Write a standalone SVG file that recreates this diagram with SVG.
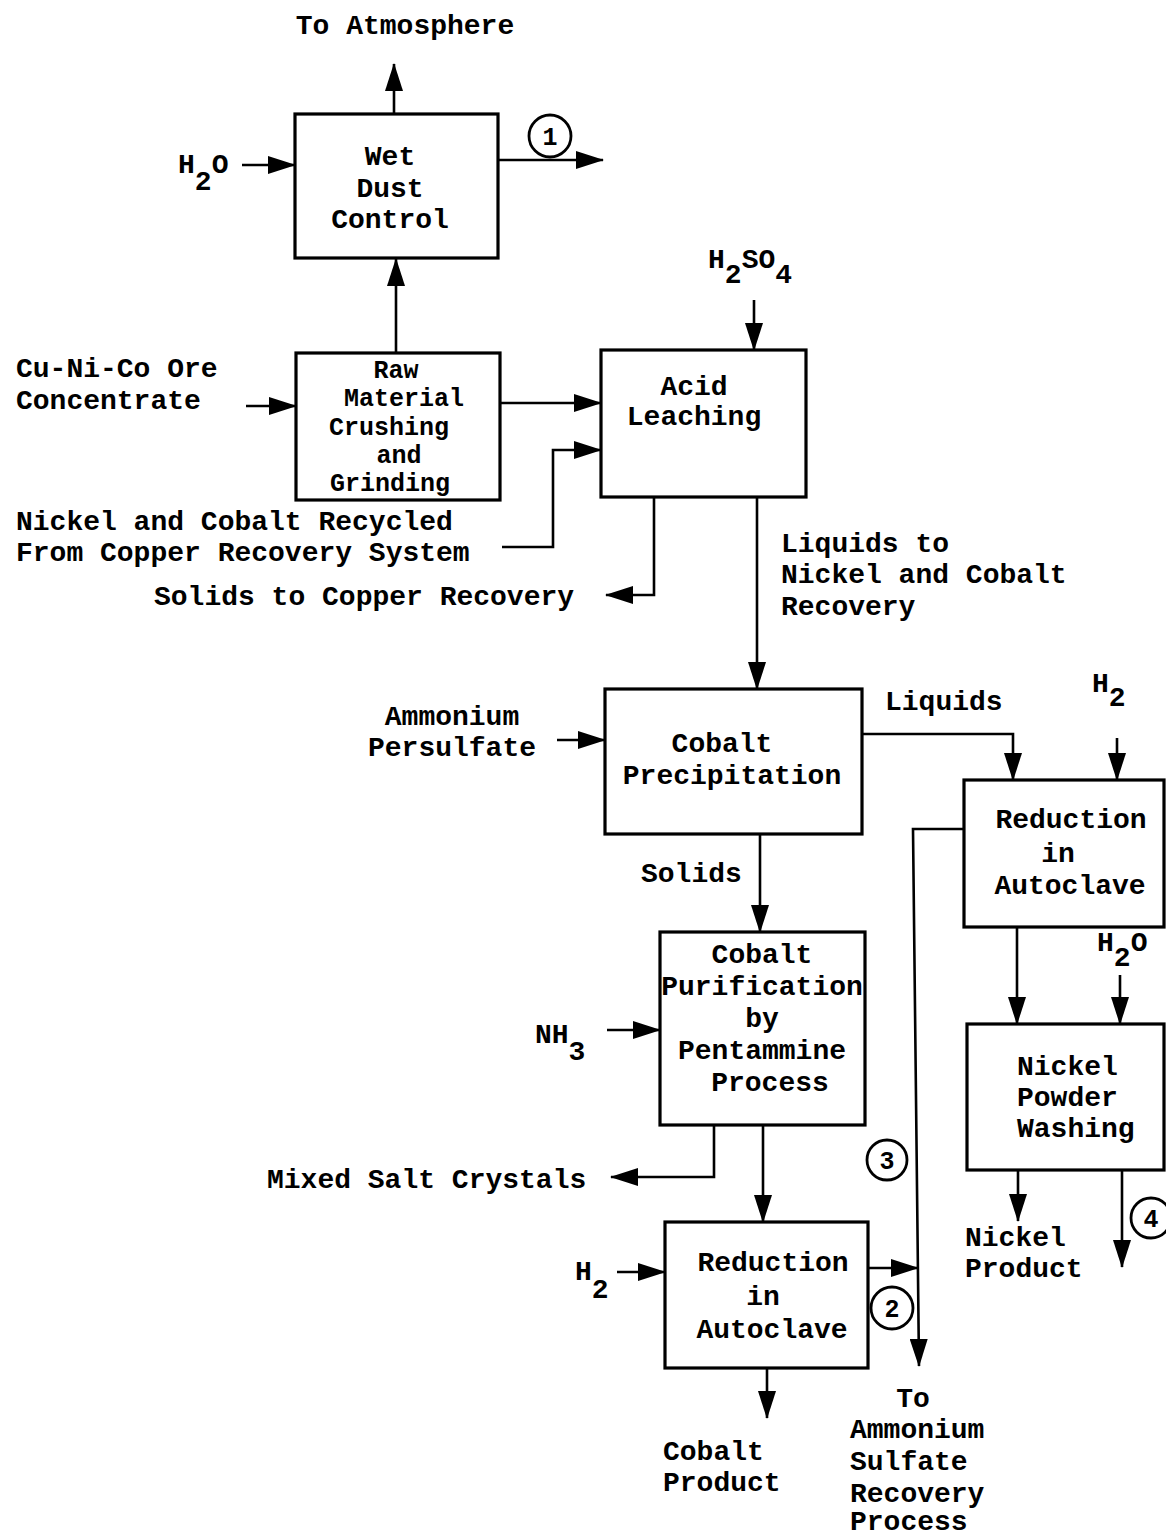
<svg xmlns="http://www.w3.org/2000/svg" width="1166" height="1538" viewBox="0 0 1166 1538">
<defs>
<marker id="ah" markerUnits="userSpaceOnUse" markerWidth="28" markerHeight="18" refX="27" refY="9" orient="auto">
<path d="M0,0 L28,9 L0,18 z" fill="#000"/>
</marker>
<style>
.box{fill:#fff;stroke:#000;stroke-width:3.2}
.c{fill:none;stroke:#000;stroke-width:2.6;marker-end:url(#ah)}
text{font-family:"Liberation Mono","Courier New",monospace;font-size:28px;font-weight:bold;fill:#000}
.m{text-anchor:middle}
.tight{font-size:25px}
.num{font-size:25px;text-anchor:middle}
.ring{fill:none;stroke:#000;stroke-width:2.8}
</style>
</defs>
<rect width="1166" height="1538" fill="#fff"/>

<g id="connectors">
<line class="c" x1="394" y1="113" x2="394" y2="64"/>
<line class="c" x1="242" y1="165" x2="295" y2="165"/>
<line class="c" x1="498" y1="160" x2="603" y2="160"/>
<line class="c" x1="396" y1="353" x2="396" y2="259"/>
<line class="c" x1="246" y1="406" x2="296" y2="406"/>
<line class="c" x1="500" y1="403" x2="601" y2="403"/>
<path class="c" d="M502,547 H553 V450 H601"/>
<line class="c" x1="754" y1="300" x2="754" y2="350"/>
<path class="c" d="M654,497 V595 H606"/>
<line class="c" x1="757" y1="497" x2="757" y2="689"/>
<line class="c" x1="557" y1="740" x2="605" y2="740"/>
<path class="c" d="M862,734 H1013 V780"/>
<line class="c" x1="1117" y1="738" x2="1117" y2="780"/>
<line class="c" x1="760" y1="834" x2="760" y2="932"/>
<path class="c" d="M964,829 H913 L919,1366"/>
<line class="c" x1="607" y1="1030" x2="660" y2="1030"/>
<path class="c" d="M714,1126 V1177 H611"/>
<line class="c" x1="763" y1="1126" x2="763" y2="1222"/>
<line class="c" x1="617" y1="1272" x2="665" y2="1272"/>
<line class="c" x1="868" y1="1268" x2="918" y2="1268"/>
<line class="c" x1="767" y1="1369" x2="767" y2="1418"/>
<line class="c" x1="1017" y1="928" x2="1017" y2="1024"/>
<line class="c" x1="1120" y1="975" x2="1120" y2="1024"/>
<line class="c" x1="1018" y1="1170" x2="1018" y2="1221"/>
<line class="c" x1="1122" y1="1170" x2="1122" y2="1267"/>
<circle class="ring" cx="550" cy="136" r="21"/>
<text class="num" x="550" y="145">1</text>
<circle class="ring" cx="892" cy="1308" r="21"/>
<text class="num" x="892" y="1317">2</text>
<circle class="ring" cx="887" cy="1160" r="20"/>
<text class="num" x="887" y="1169">3</text>
<circle class="ring" cx="1151" cy="1218" r="20"/>
<text class="num" x="1151" y="1227">4</text>
</g>

<g id="labels">
<text class="m" x="405" y="34">To Atmosphere</text>
<text x="178" y="173">H<tspan dy="17">2</tspan><tspan dy="-17">O</tspan></text>
<text x="708" y="268">H<tspan dy="15">2</tspan><tspan dy="-15">SO</tspan><tspan dy="15">4</tspan></text>
<text x="16" y="377">Cu-Ni-Co Ore</text>
<text x="16" y="409">Concentrate</text>
<text x="16" y="530">Nickel and Cobalt Recycled</text>
<text x="16" y="561">From Copper Recovery System</text>
<text x="154" y="605">Solids to Copper Recovery</text>
<text x="781" y="552">Liquids to</text>
<text x="781" y="583">Nickel and Cobalt</text>
<text x="781" y="615">Recovery</text>
<text class="m" x="452" y="725">Ammonium</text>
<text class="m" x="452" y="756">Persulfate</text>
<text x="885" y="710">Liquids</text>
<text x="1092" y="692">H<tspan dy="14">2</tspan></text>
<text x="641" y="882">Solids</text>
<text x="1097" y="951">H<tspan dy="15">2</tspan><tspan dy="-15">O</tspan></text>
<text x="535" y="1043">NH<tspan dy="17">3</tspan></text>
<text x="267" y="1188">Mixed Salt Crystals</text>
<text x="575" y="1280">H<tspan dy="18">2</tspan></text>
<text x="965" y="1246">Nickel</text>
<text x="965" y="1277">Product</text>
<text x="663" y="1460">Cobalt</text>
<text x="663" y="1491">Product</text>
<text class="m" x="913" y="1407">To</text>
<text x="850" y="1438">Ammonium</text>
<text x="850" y="1470">Sulfate</text>
<text x="850" y="1502">Recovery</text>
<text x="850" y="1530">Process</text>
</g>

<g id="wet-dust-control">
<rect class="box" x="295" y="114" width="203" height="144"/>
<text class="m" x="390" y="165">Wet</text>
<text class="m" x="390" y="197">Dust</text>
<text class="m" x="390" y="228">Control</text>
</g>
<g id="raw-material">
<rect class="box" x="296" y="353" width="204" height="147"/>
<text class="m tight" x="396" y="378">Raw</text>
<text class="m tight" x="404" y="406">Material</text>
<text class="m tight" x="389" y="435">Crushing</text>
<text class="m tight" x="399" y="463">and</text>
<text class="m tight" x="390" y="491">Grinding</text>
</g>
<g id="acid-leaching">
<rect class="box" x="601" y="350" width="205" height="147"/>
<text class="m" x="694" y="395">Acid</text>
<text class="m" x="694" y="425">Leaching</text>
</g>
<g id="cobalt-precipitation">
<rect class="box" x="605" y="689" width="257" height="145"/>
<text class="m" x="722" y="752">Cobalt</text>
<text class="m" x="732" y="784">Precipitation</text>
</g>
<g id="reduction-nickel">
<rect class="box" x="964" y="780" width="200" height="147"/>
<text class="m" x="1071" y="828">Reduction</text>
<text class="m" x="1058" y="862">in</text>
<text class="m" x="1070" y="894">Autoclave</text>
</g>
<g id="cobalt-purification">
<rect class="box" x="660" y="932" width="205" height="193"/>
<text class="m" x="762" y="963">Cobalt</text>
<text class="m" x="762" y="995">Purification</text>
<text class="m" x="762" y="1027">by</text>
<text class="m" x="762" y="1059">Pentammine</text>
<text class="m" x="770" y="1091">Process</text>
</g>
<g id="nickel-powder-washing">
<rect class="box" x="967" y="1024" width="197" height="146"/>
<text x="1017" y="1075">Nickel</text>
<text x="1017" y="1106">Powder</text>
<text x="1017" y="1137">Washing</text>
</g>
<g id="reduction-cobalt">
<rect class="box" x="665" y="1222" width="203" height="146"/>
<text class="m" x="773" y="1271">Reduction</text>
<text class="m" x="763" y="1305">in</text>
<text class="m" x="772" y="1338">Autoclave</text>
</g>
</svg>
